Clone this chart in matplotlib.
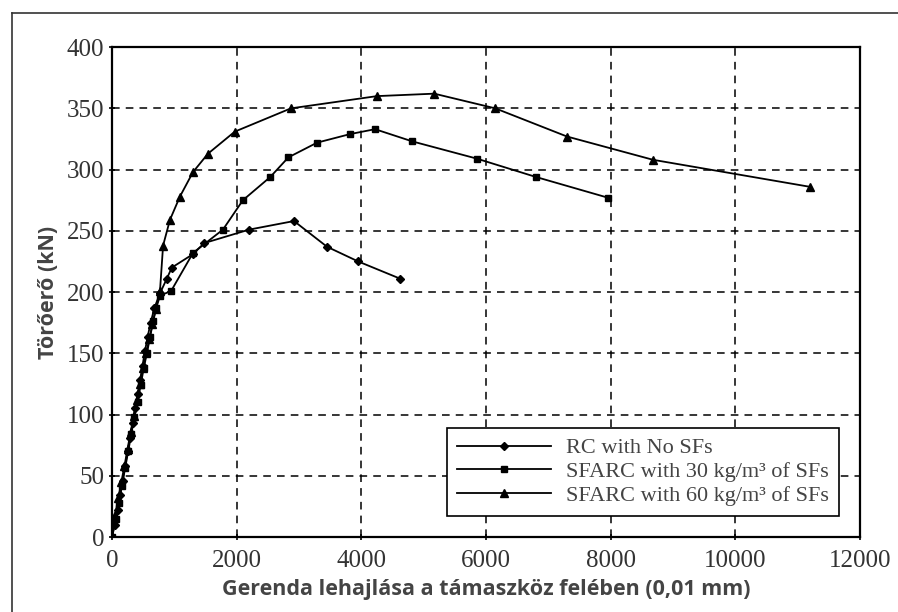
import matplotlib.pyplot as plt
from matplotlib.lines import Line2D

# RC with no steel fibres
rc_x = [0, 45, 90, 130, 170, 210, 250, 290, 330, 370, 410, 450, 490, 530, 570,
        620, 680, 770, 880, 960, 1300, 1480, 2200, 2920, 3450, 3950, 4620]
rc_y = [0, 10, 22, 34, 46, 58, 70, 81, 93, 105, 117, 128, 140, 152, 163,
        175, 187, 199, 211, 220, 231, 240, 251, 258, 237, 225, 211]

# SFARC 30 kg/m3
sf30_x = [0, 60, 110, 160, 210, 260, 310, 360, 410, 460, 510, 560, 610, 660, 710,
          770, 950, 1300, 1780, 2100, 2540, 2830, 3290, 3820, 4220, 4820, 5850, 6800, 7960]
sf30_y = [0, 15, 28, 42, 56, 70, 84, 98, 110, 124, 138, 150, 163, 176, 187,
          197, 201, 232, 251, 275, 294, 310, 322, 329, 333, 323, 309, 294, 277]

# SFARC 60 kg/m3
sf60_x = [0, 50, 100, 150, 200, 250, 300, 350, 400, 450, 500, 550, 600, 650, 700,
          770, 820, 930, 1090, 1300, 1540, 1970, 2870, 4250, 5170, 6150, 7300, 8680, 11190]
sf60_y = [0, 18, 32, 45, 58, 72, 86, 99, 112, 125, 138, 150, 162, 174, 186,
          201, 238, 259, 278, 298, 313, 331, 350, 360, 362, 350, 327, 308, 286]

labels = ["RC with No SFs", "SFARC with 30 kg/m³ of SFs", "SFARC with 60 kg/m³ of SFs"]
x_ticks = [0, 2000, 4000, 6000, 8000, 10000, 12000]
y_ticks = [0, 50, 100, 150, 200, 250, 300, 350, 400]

fig = plt.figure(figsize=(8.98, 6.12), dpi=100)
ax = fig.add_axes([0.1247, 0.1225, 0.833, 0.8005])

ax.plot(rc_x, rc_y, color="black", lw=1.3, marker="D", ms=4, label=labels[0])
ax.plot(sf30_x, sf30_y, color="black", lw=1.3, marker="s", ms=5, label=labels[1])
ax.plot(sf60_x, sf60_y, color="black", lw=1.3, marker="^", ms=5.5, label=labels[2])

ax.set_xlim(0, 12000)
ax.set_ylim(0, 400)
ax.set_xticks(x_ticks)
ax.set_yticks(y_ticks)
ax.grid(True, color="black", linestyle=(0, (5, 4)), linewidth=1.1)
for s in ax.spines.values():
    s.set_linewidth(1.6)
ax.tick_params(direction="inout", length=5, width=1.2, labelsize=18,
               labelcolor="#333333")
ax.tick_params(axis="x", pad=7)
ax.tick_params(axis="y", pad=3)
for lbl in ax.get_xticklabels() + ax.get_yticklabels():
    lbl.set_family("Liberation Serif")

ax.set_xlabel("Gerenda lehajlása a támaszköz felében (0,01 mm)", family="Open Sans",
              fontweight="bold", fontsize=15.5, color="#444444", labelpad=5)
ax.set_ylabel("Törőerő (kN)", family="Open Sans", fontweight="bold",
              fontsize=15.5, color="#444444", labelpad=6)

leg = ax.legend(loc="lower right", bbox_to_anchor=(0.987, 0.02), fancybox=False,
                edgecolor="black", framealpha=1, handlelength=4.2,
                prop={"family": "Liberation Serif", "size": 16},
                labelspacing=0.15, borderpad=0.45, handletextpad=0.7)
leg.get_frame().set_linewidth(1.2)
for t in leg.get_texts():
    t.set_color("#444444")

# outer frame of the figure
fig.add_artist(Line2D([12 / 898, 12 / 898], [0, 1 - 13 / 612], color="#333333", lw=1.2))
fig.add_artist(Line2D([12 / 898, 1], [1 - 13 / 612, 1 - 13 / 612], color="#333333", lw=1.2))

fig.savefig("out.png", dpi=100)
